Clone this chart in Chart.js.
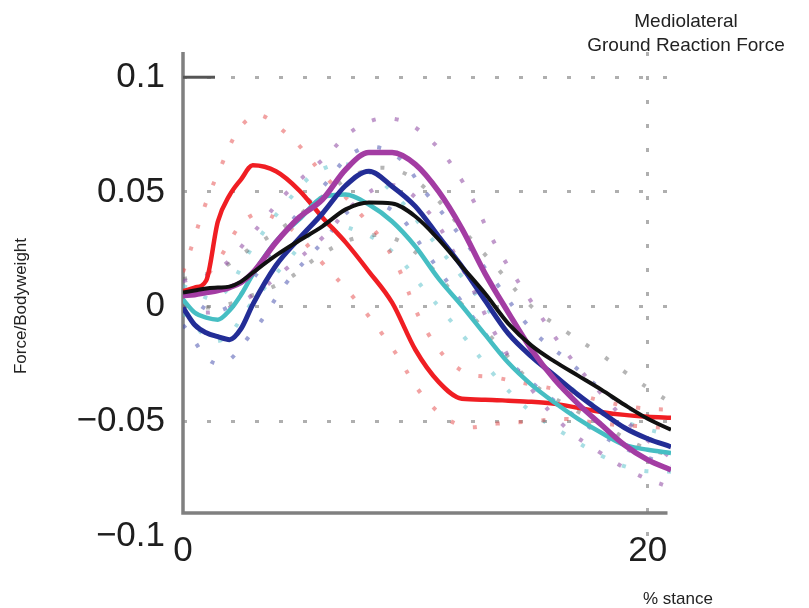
<!DOCTYPE html>
<html>
<head>
<meta charset="utf-8">
<script src="https://cdn.jsdelivr.net/npm/chart.js@4"></script>
<style>
  html, body { margin: 0; padding: 0; background: #fff; }
  #wrap { position: relative; width: 809px; height: 608px; }
  .lbl { position: absolute; font-family: "Liberation Sans", Arial, sans-serif; color: #222; white-space: nowrap; }
  #title { left: 561px; top: 9px; width: 250px; text-align: center; font-size: 19px; line-height: 24px; }
  #xtitle { left: 628px; top: 589px; width: 100px; text-align: center; font-size: 17px; }
  #ytitle { left: -79px; top: 296px; width: 200px; height: 20px; line-height: 20px; text-align: center; font-size: 17px; transform: rotate(-90deg); }
</style>
</head>
<body>
<div id="wrap">
  <canvas id="grf"></canvas>
  <div class="lbl" id="title">Mediolateral<br>Ground Reaction Force</div>
  <div class="lbl" id="xtitle">% stance</div>
  <div class="lbl" id="ytitle">Force/Bodyweight</div>
</div>
<script>
// % stance samples for the mean curves
const xs = [0, 0.5, 1, 1.5, 2, 2.5, 3, 4, 5, 6, 7, 8, 9, 10, 11, 12, 13, 14, 15, 16, 17, 18, 19, 20, 21];

const redMean     = [0.0066, 0.0083, 0.0114, 0.0371, 0.0485, 0.0555, 0.0616, 0.059, 0.0507, 0.0389, 0.028, 0.0153, 0.0017, -0.0188, -0.0328, -0.0402, -0.0406, -0.041, -0.0415, -0.0424, -0.0441, -0.0459, -0.0472, -0.048, -0.0485];
const magentaMean = [0.0048, 0.0052, 0.0061, 0.007, 0.0083, 0.0105, 0.0148, 0.028, 0.0389, 0.0467, 0.0598, 0.0672, 0.0672, 0.062, 0.0502, 0.034, 0.0144, -0.0026, -0.0188, -0.0319, -0.0424, -0.0515, -0.0603, -0.0668, -0.0712];
const blueMean    = [-0.0004, -0.0079, -0.0114, -0.0131, -0.0144, -0.0096, 0.0009, 0.0179, 0.0297, 0.0406, 0.0528, 0.059, 0.0524, 0.0437, 0.0306, 0.0175, 0.0026, -0.0118, -0.0218, -0.0301, -0.0384, -0.0459, -0.0528, -0.0576, -0.0611];
const blackMean   = [0.0061, 0.007, 0.0079, 0.0083, 0.0087, 0.0109, 0.0148, 0.0223, 0.0288, 0.035, 0.0424, 0.0454, 0.045, 0.0393, 0.0293, 0.0175, 0.0057, -0.0074, -0.017, -0.024, -0.0301, -0.0362, -0.0428, -0.0489, -0.0537];
const cyanMean    = [0.0031, -0.0026, -0.0048, -0.0057, -0.0017, 0.0052, 0.014, 0.0284, 0.038, 0.0476, 0.0489, 0.0445, 0.0371, 0.0262, 0.0122, 0.0004, -0.0122, -0.0245, -0.0341, -0.0419, -0.0489, -0.055, -0.0603, -0.0624, -0.0638];

// dotted spread lines
const bandXs = [0, 1.5, 3, 4.5, 6, 7.5, 9, 10.5, 12, 13.5, 15, 16.5, 18, 19.5, 21];
const redUpper     = [0.015, 0.058, 0.083, 0.075, 0.058, 0.042, 0.022, -0.011, -0.028, -0.031, -0.034, -0.037, -0.041, -0.044, -0.045];
const redLower     = [-0.002, 0.02, 0.04, 0.035, 0.019, 0.002, -0.018, -0.041, -0.052, -0.051, -0.05, -0.049, -0.051, -0.052, -0.053];
const magentaUpper = [0.011, 0.016, 0.032, 0.05, 0.064, 0.078, 0.082, 0.074, 0.055, 0.026, 0.002, -0.02, -0.038, -0.054, -0.066];
const magentaLower = [-0.002, -0.002, 0.005, 0.017, 0.03, 0.046, 0.053, 0.042, 0.017, -0.013, -0.036, -0.053, -0.064, -0.073, -0.079];
const blueUpper    = [0.006, -0.002, 0.012, 0.035, 0.052, 0.068, 0.067, 0.049, 0.03, 0.01, -0.01, -0.023, -0.036, -0.046, -0.053];
const blueLower    = [-0.008, -0.025, -0.011, 0.011, 0.028, 0.044, 0.042, 0.023, 0.002, -0.018, -0.033, -0.045, -0.056, -0.064, -0.069];
const blackUpper   = [0.012, 0.016, 0.026, 0.036, 0.048, 0.058, 0.06, 0.051, 0.034, 0.017, 0.0, -0.011, -0.021, -0.032, -0.042];
const blackLower   = [0.0, 0.0, 0.005, 0.012, 0.023, 0.03, 0.03, 0.019, 0.001, -0.016, -0.033, -0.043, -0.051, -0.06, -0.065];
const cyanUpper    = [0.009, 0.004, 0.026, 0.046, 0.06, 0.061, 0.05, 0.032, 0.013, -0.006, -0.022, -0.034, -0.045, -0.052, -0.056];
const cyanLower    = [-0.003, -0.015, 0.002, 0.02, 0.035, 0.033, 0.024, 0.006, -0.012, -0.031, -0.046, -0.056, -0.065, -0.071, -0.072];

// ticks
const xTicks = [0, 20];
const xTickLabels = ['0', '20'];
const yTicks = [-0.1, -0.05, 0, 0.05, 0.1];
const yTickLabels = ['\u22120.1', '\u22120.05', '0', '0.05', '0.1'];

const FONT = '"Liberation Sans", Arial, sans-serif';

function pts(xv, yv) {
  return xv.map((x, i) => ({ x: x, y: yv[i] }));
}

function meanLine(label, data, color, width) {
  return {
    label: label,
    data: pts(xs, data),
    borderColor: color,
    borderWidth: width,
    pointRadius: 0,
    fill: false,
    cubicInterpolationMode: 'monotone'
  };
}

function bandLine(label, data, color) {
  return {
    label: label,
    data: pts(bandXs, data),
    borderColor: color,
    borderWidth: 4,
    borderDash: [4, 19],
    borderCapStyle: 'butt',
    pointRadius: 0,
    fill: false,
    tension: 0.4
  };
}

// axis frame sits at -0.09 in the original figure, tick label -0.1 below it
const frame = {
  id: 'frame',
  beforeDatasetsDraw(chart) {
    const ctx = chart.ctx;
    const x = chart.scales.x, y = chart.scales.y;
    const x0 = x.getPixelForValue(0);
    const yb = y.getPixelForValue(-0.09);
    ctx.save();
    ctx.strokeStyle = '#808080';
    ctx.lineWidth = 3.5;
    ctx.beginPath();
    ctx.moveTo(x0, chart.chartArea.top);
    ctx.lineTo(x0, yb);
    ctx.lineTo(x.getPixelForValue(20.85), yb);
    ctx.stroke();
    // short tick at the top value
    ctx.strokeStyle = '#555';
    ctx.lineWidth = 3;
    ctx.beginPath();
    ctx.moveTo(x0, y.getPixelForValue(0.1));
    ctx.lineTo(x0 + 32, y.getPixelForValue(0.1));
    ctx.stroke();
    ctx.restore();
  }
};

const gridGray = 'rgba(110,110,110,0.55)';

new Chart('grf', {
  type: 'line',
  data: {
    datasets: [
      meanLine('black', blackMean, '#111111', 4),
      meanLine('magenta', magentaMean, '#a33ca3', 5.5),
      meanLine('blue', blueMean, '#232d96', 5),
      meanLine('cyan', cyanMean, '#46bec3', 4.5),
      meanLine('red', redMean, '#f01e23', 4.5),
      bandLine('red +', redUpper, 'rgba(230,70,70,0.5)'),
      bandLine('red -', redLower, 'rgba(230,70,70,0.5)'),
      bandLine('magenta +', magentaUpper, 'rgba(140,70,160,0.55)'),
      bandLine('magenta -', magentaLower, 'rgba(140,70,160,0.55)'),
      bandLine('blue +', blueUpper, 'rgba(60,70,170,0.5)'),
      bandLine('blue -', blueLower, 'rgba(60,70,170,0.5)'),
      bandLine('black +', blackUpper, 'rgba(90,90,90,0.45)'),
      bandLine('black -', blackLower, 'rgba(90,90,90,0.45)'),
      bandLine('cyan +', cyanUpper, 'rgba(80,190,200,0.5)'),
      bandLine('cyan -', cyanLower, 'rgba(80,190,200,0.5)')
    ]
  },
  options: {
    responsive: true,
    maintainAspectRatio: false,
    animation: false,
    layout: { padding: { left: 11, top: 52, right: 138, bottom: 30 } },
    plugins: {
      legend: { display: false },
      tooltip: { enabled: false }
    },
    scales: {
      x: {
        type: 'linear',
        min: 0,
        max: 21,
        border: { display: false, dash: [4, 20] },
        grid: {
          drawTicks: false,
          color: ctx => ctx.tick && ctx.tick.value === 20 ? gridGray : 'rgba(0,0,0,0)',
          lineWidth: 3
        },
        afterBuildTicks: s => { s.ticks = xTicks.map(v => ({ value: v })); },
        afterFit: s => { s.height = 42; },
        ticks: {
          padding: -6,
          color: '#1e1e1e',
          font: { family: FONT, size: 35 },
          callback: (v, i) => xTickLabels[i]
        }
      },
      y: {
        min: -0.1,
        max: 0.111,
        border: { display: false, dash: [4, 20] },
        grid: {
          drawTicks: false,
          color: ctx => ctx.tick && ctx.tick.value > -0.09 ? gridGray : 'rgba(0,0,0,0)',
          lineWidth: 3
        },
        afterBuildTicks: s => { s.ticks = yTicks.map(v => ({ value: v })); },
        afterFit: s => { s.width = 172; },
        ticks: {
          padding: 18,
          color: '#1e1e1e',
          font: { family: FONT, size: 35 },
          callback: (v, i) => yTickLabels[i]
        }
      }
    }
  },
  plugins: [frame]
});
</script>
</body>
</html>
